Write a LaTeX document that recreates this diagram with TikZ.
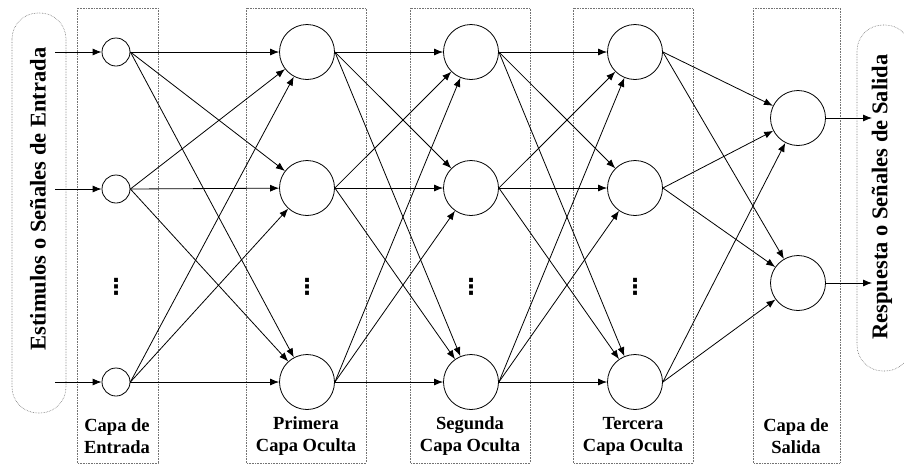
\documentclass[tikz,border=0pt]{standalone}
\usepackage{fontspec}
\setmainfont{Liberation Serif}
\newfontfamily\dotsfont{DejaVu Sans}
\usetikzlibrary{arrows.meta}
\begin{document}
\begin{tikzpicture}[x=1pt,y=-1pt,
  neuron/.style={circle,draw,line width=0.8pt,fill=white,inner sep=0pt},
  smallneuron/.style={neuron,minimum size=28pt},
  bigneuron/.style={neuron,minimum size=55pt},
  conn/.style={line width=0.8pt,-{Latex[length=9pt,width=7pt]}},
  layerbox/.style={draw=black!55,densely dotted,line width=0.6pt},
  signalbox/.style={draw=black!55,densely dotted,line width=0.6pt,rounded corners=26pt},
  layerlabel/.style={font=\bfseries\fontsize{18.5}{22}\selectfont,align=center},
  signallabel/.style={font=\bfseries\fontsize{22.5}{26}\selectfont,rotate=90},
  dotsmark/.style={font=\dotsfont\bfseries\fontsize{22}{22}\selectfont,inner sep=0pt}]
\useasboundingbox (0,0) rectangle (904,464);
\clip (0,0) rectangle (904,464);

% layer frames
\draw[layerbox] (77,8) rectangle (158,463);
\draw[layerbox] (246,8) rectangle (366,463);
\draw[layerbox] (410,8) rectangle (530,463);
\draw[layerbox] (573,8) rectangle (693,463);
\draw[layerbox] (753,8) rectangle (840,463);

% signal frames
\draw[signalbox] (12,13) rectangle (66,413);
\draw[signalbox] (857,25) rectangle (911,371);
\node[signallabel] (insig) at (38,199) {Estimulos o Señales de Entrada};
\node[signallabel] (outsig) at (882,197) {Respuesta o Señales de Salida};

% neurons
\foreach \i/\y in {1/52,2/189,3/382} {
  \node[smallneuron] (in\i) at (116,\y) {};
}
\foreach \i/\y in {1/52,2/188,3/382} {
  \node[bigneuron] (ha\i) at (307,\y) {};
  \node[bigneuron] (hb\i) at (471,\y) {};
  \node[bigneuron] (hc\i) at (635,\y) {};
}
\node[bigneuron] (out1) at (798,118) {};
\node[bigneuron] (out2) at (798,283) {};

% ellipses marking omitted neurons
\node[dotsmark] (din) at (116,287) {⋮};
\node[dotsmark] (dha) at (307,287) {⋮};
\node[dotsmark] (dhb) at (471,287) {⋮};
\node[dotsmark] (dhc) at (635,287) {⋮};

% input and output signals
\foreach \i/\y in {1/52,2/189,3/382} {
  \coordinate (src\i) at (55,\y);
  \draw[conn] (src\i) -- (in\i);
}
\coordinate (dst1) at (872,118);
\coordinate (dst2) at (872,283);
\draw[conn] (out1.east) -- (dst1);
\draw[conn] (out2.east) -- (dst2);

% full connections between consecutive layers
\foreach \s in {1,2,3} {
  \foreach \t in {1,2,3} {
    \draw[conn] (in\s.east) -- (ha\t);
    \draw[conn] (ha\s.east) -- (hb\t);
    \draw[conn] (hb\s.east) -- (hc\t);
  }
  \foreach \t in {1,2} {
    \draw[conn] (hc\s.east) -- (out\t);
  }
}

% layer captions
\node[layerlabel] (lin) at (117,436) {Capa de\\Entrada};
\node[layerlabel] (lha) at (306,436) {Primera\\Capa Oculta};
\node[layerlabel] (lhb) at (470,436) {Segunda\\Capa Oculta};
\node[layerlabel] (lhc) at (633,436) {Tercera\\Capa Oculta};
\node[layerlabel] (lout) at (796,436) {Capa de\\Salida};
\end{tikzpicture}
\end{document}
